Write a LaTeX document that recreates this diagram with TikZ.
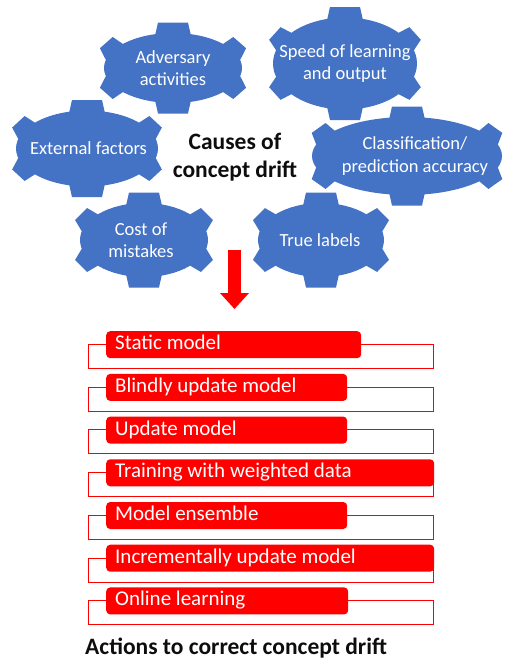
\documentclass[tikz,border=0pt]{standalone}
\usepackage{fontspec}
\setmainfont{Carlito}
\usetikzlibrary{arrows.meta}
\definecolor{gearblue}{HTML}{4472C4}
\definecolor{actred}{HTML}{FF0000}
\definecolor{titleblack}{HTML}{0D0D0D}
\newcommand\gearfig[7]{% name, cx, cy, a, b, text x, text
  \begin{scope}[shift={(#2,#3)}]
    \fill[gearblue] (0,0) ellipse [x radius=#4, y radius=#5];
    \foreach \t/\wo/\wi in {90/15/18.5, 270/15/18.5, 30/8.5/12.5, 150/8.5/12.5, 210/8.5/12.5, 330/8.5/12.5}{
      \pgfmathsetmacro\px{#4*cos(\t)}
      \pgfmathsetmacro\py{#5*sin(\t)}
      \pgfmathsetmacro\ph{atan2(#4*sin(\t), #5*cos(\t))}
      \fill[gearblue, shift={(\px,\py)}, rotate=-\ph] (-5,-\wi) -- (10.5,-\wo) -- (10.5,\wo) -- (-5,\wi) -- cycle;
    }
  \end{scope}
  \node[geartext] (#1) at (#6,#3) {#7};
}
\begin{document}
\begin{tikzpicture}[x=1pt,y=-1pt,
  geartext/.style={text=white, align=center, inner sep=0pt, font=\fontsize{18.5}{22.5}\selectfont},
  causetitle/.style={text=titleblack, align=center, inner sep=0pt, font=\fontsize{23.5}{28}\selectfont\bfseries},
  outbox/.style={draw=actred, line width=1pt, fill=white, anchor=north west, minimum height=24pt, minimum width=345pt, inner sep=0pt},
  actbox/.style={fill=actred, rounded corners=4pt, anchor=north west, minimum height=27pt, inner xsep=9pt, inner ysep=0pt, align=flush left, text=white, text height=14pt, text depth=4pt, font=\fontsize{21}{24}\selectfont},
  bigarrow/.style={draw=actred, line width=13pt, -{Triangle[width=28pt,length=16pt]}}
]
\useasboundingbox (0,0) rectangle (516,667);

\gearfig{adv}{173}{68}{69}{35}{173}{Adversary\\activities}
\gearfig{ext}{87}{148.5}{71}{38}{88.5}{External factors}
\gearfig{cost}{144}{240}{64}{37}{141}{Cost of\\mistakes}
\gearfig{speed}{345}{63.5}{72}{46}{345}{Speed of learning\\and output}
\gearfig{cls}{407}{156}{95}{39}{415}{Classification/\\prediction accuracy}
\gearfig{truel}{321}{240}{63}{37}{320}{True labels}

\node[causetitle] (causes) at (235,157) {Causes of\\concept drift};

\coordinate (arrTop) at (234.5,250);
\coordinate (arrTip) at (234.5,309);
\draw[bigarrow] (arrTop) -- (arrTip);

\foreach \i/\y/\w/\txt in {
  1/331/255/Static model,
  2/373.7/241/Blindly update model,
  3/416.4/241/Update model,
  4/459.1/328/Training with weighted data,
  5/501.8/241/Model ensemble,
  6/544.5/328/Incrementally update model,
  7/587.2/242/Online learning}{
  \node[outbox] (o\i) at (88,\y+13) {};
  \pgfmathsetmacro\tw{\w-18}
  \node[actbox, minimum width=\w pt, text width=\tw pt] (a\i) at (106,\y) {\txt};
}

\node[text=titleblack, anchor=west, inner sep=0pt, font=\fontsize{23.5}{28}\selectfont\bfseries] (actions) at (85,648) {Actions to correct concept drift};
\end{tikzpicture}
\end{document}
